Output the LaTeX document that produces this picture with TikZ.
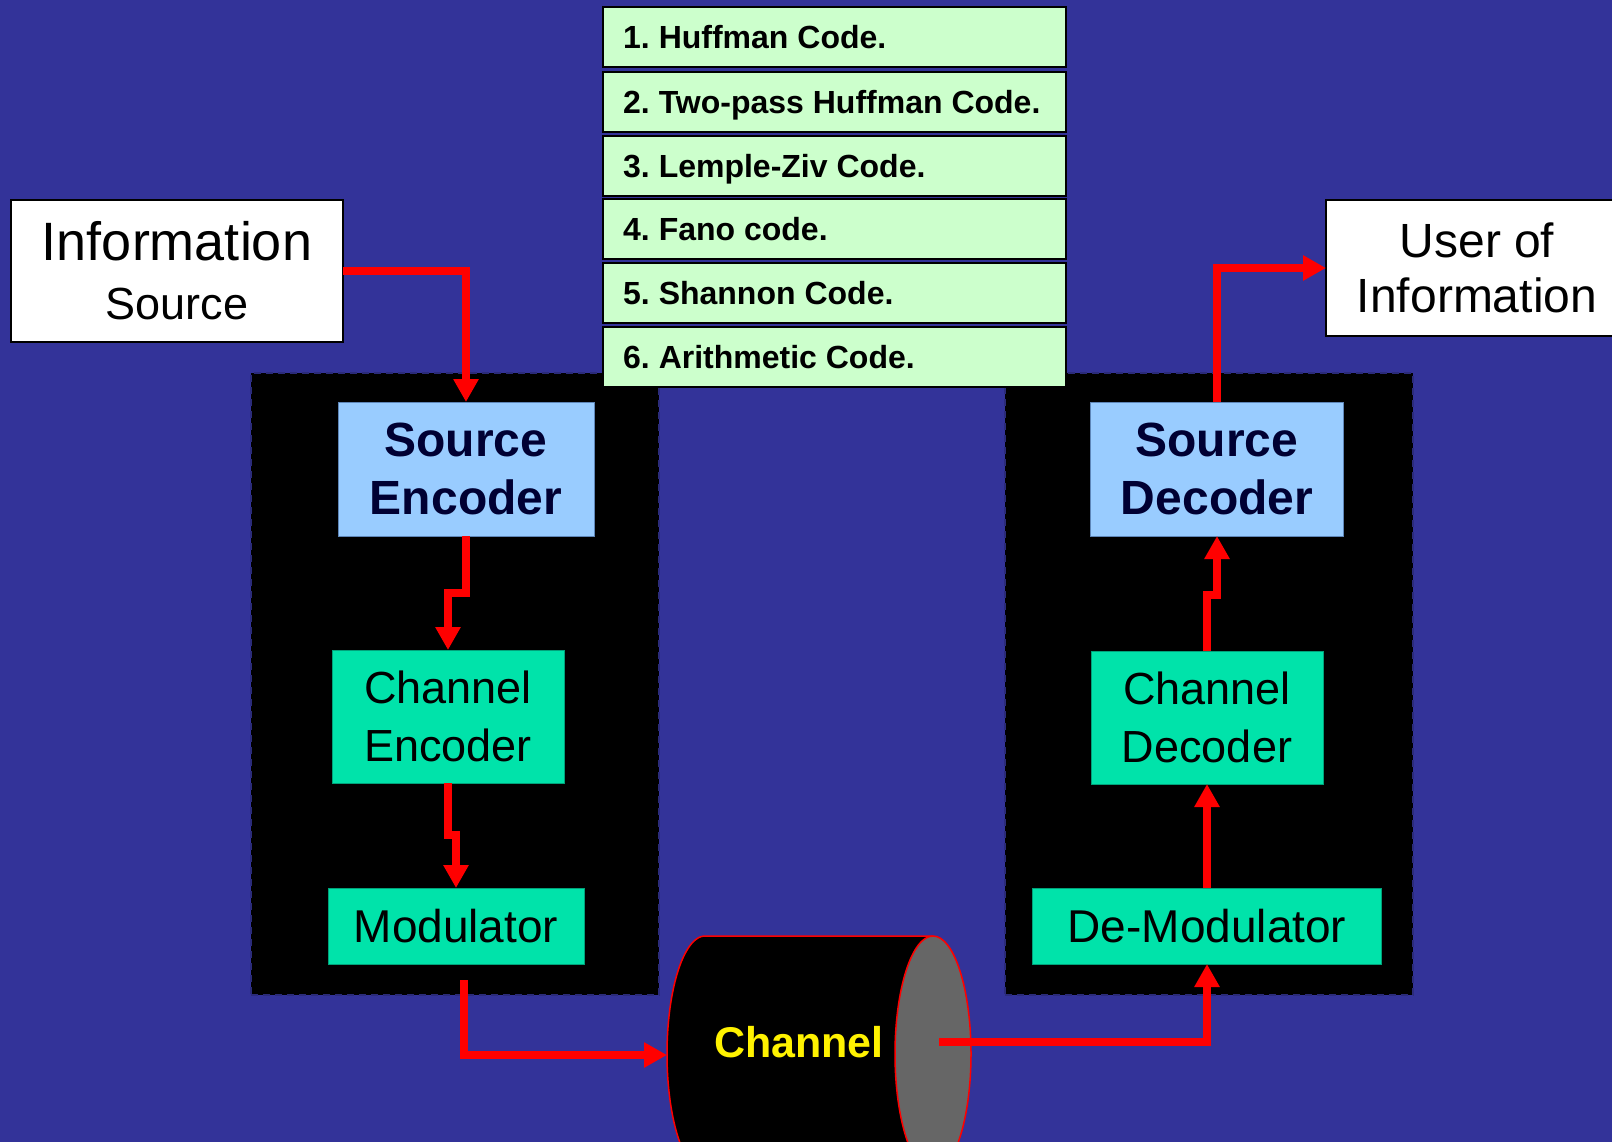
\documentclass[tikz,border=0pt]{standalone}
\usepackage{fontspec}
\setmainfont{Liberation Sans}
\usetikzlibrary{arrows.meta}
\frenchspacing
\definecolor{bg}{HTML}{333399}
\definecolor{listgreen}{HTML}{CCFFCC}
\definecolor{srcblue}{HTML}{99CCFF}
\definecolor{srcborder}{HTML}{5E86B8}
\definecolor{navy}{HTML}{000033}
\definecolor{chgreen}{HTML}{00E3AA}
\definecolor{chborder}{HTML}{00A27A}
\definecolor{panelborder}{HTML}{2B2B7A}
\definecolor{capgray}{HTML}{666666}
\begin{document}
\begin{tikzpicture}[x=1pt,y=-1pt,
  flow/.style={draw=red, line width=7.7pt, -{Triangle[length=23pt,width=24pt]}},
  box/.style={rectangle, inner sep=0pt, outer sep=0pt, align=center},
  whitebox/.style={box, fill=white, draw=black, line width=2pt},
  listbox/.style={box, fill=listgreen, draw=black, line width=2pt, minimum width=463pt, minimum height=60pt},
  listtext/.style={anchor=west, inner sep=0pt, text height=23pt, text depth=0pt, font=\fontsize{32}{38}\selectfont\bfseries},
  panel/.style={box, fill=black, draw=panelborder, line width=1.5pt, dash pattern=on 7pt off 5pt, minimum width=408pt, minimum height=622pt},
  srcbox/.style={box, fill=srcblue, draw=srcborder, line width=1pt, text=navy, font=\fontsize{48}{58}\selectfont\bfseries},
  chbox/.style={box, fill=chgreen, draw=chborder, line width=1pt, font=\fontsize{45}{57.5}\selectfont},
  modbox/.style={box, fill=chgreen, draw=chborder, line width=1pt, font=\fontsize{46}{56}\selectfont, minimum height=76pt},
  cyl/.style={draw=red, line width=1.5pt}
]
\useasboundingbox (0,0) rectangle (1612,1142);
\clip (0,0) rectangle (1612,1142);
\fill[bg] (0,0) rectangle (1612,1142);

% panels
\node[panel] (lpanel) at (455,684) {};
\node[panel] (rpanel) at (1209,684) {};

% list of codes
\node[listbox] (l1) at (834.5,37) {};
\node[listbox] (l2) at (834.5,102) {};
\node[listbox] (l3) at (834.5,166) {};
\node[listbox] (l4) at (834.5,229) {};
\node[listbox] (l5) at (834.5,293) {};
\node[listbox] (l6) at (834.5,357) {};
\node[listtext] (t1) at (623,37) {1. Huffman Code.};
\node[listtext] (t2) at (623,102) {2. Two-pass Huffman Code.};
\node[listtext] (t3) at (623,166) {3. Lemple-Ziv Code.};
\node[listtext] (t4) at (623,229) {4. Fano code.};
\node[listtext] (t5) at (623,293) {5. Shannon Code.};
\node[listtext] (t6) at (623,357) {6. Arithmetic Code.};

% source and user
\node[whitebox, minimum width=332pt, minimum height=142pt, font=\fontsize{45}{59}\selectfont] (info) at (177,271)
  {{\fontsize{54}{59}\selectfont Information}\\Source};
\node[whitebox, minimum width=302pt, minimum height=136pt, font=\fontsize{48}{55}\selectfont] (user) at (1477,268)
  {User of\\Information};

% transmitter
\node[srcbox, minimum width=256pt, minimum height=134pt] (senc) at (466,469) {Source\\Encoder};
\node[chbox, minimum width=232pt, minimum height=133pt] (cenc) at (448,716.5) {Channel\\Encoder};
\node[modbox, minimum width=256pt] (mod) at (456,926) {Modulator};

% receiver
\node[srcbox, minimum width=253pt, minimum height=134pt] (sdec) at (1217,469) {Source\\Decoder};
\node[chbox, minimum width=232pt, minimum height=133pt] (cdec) at (1207,717.5) {Channel\\Decoder};
\node[modbox, minimum width=349pt] (demod) at (1207,926) {De-Modulator};

% channel cylinder
\fill[black] (705,936) rectangle (933,1172);
\fill[black] (705,1054) ellipse [x radius=38, y radius=118];
\draw[cyl] (933,936) -- (705,936)
  plot[domain=90:270, samples=80] ({705+38*cos(\x)}, {1054-118*sin(\x)}) -- (933,1172);
\filldraw[cyl, fill=capgray] (933,1054) ellipse [x radius=38, y radius=118];
\node[inner sep=0pt, text height=31pt, text depth=0pt, text=yellow, font=\fontsize{43}{50}\selectfont\bfseries] (chan) at (799,1042) {Channel};
\coordinate (chanL) at (667,1055);
\coordinate (chanR) at (939,1042);
\coordinate (modout) at (464,980);

% connectors
\draw[flow] (info.east) -| (senc.north);
\draw[flow] (senc.south) -- ++(0,57) -| (cenc.north);
\draw[flow] (cenc.south) -- ++(0,52) -| (mod.north);
\draw[flow] (modout) |- (chanL);
\draw[flow] (chanR) -| (demod.south);
\draw[flow] (demod.north) -- (cdec.south);
\draw[flow] (cdec.north) -- ++(0,-56) -| (sdec.south);
\draw[flow] (sdec.north) |- (user.west);
\end{tikzpicture}
\end{document}
